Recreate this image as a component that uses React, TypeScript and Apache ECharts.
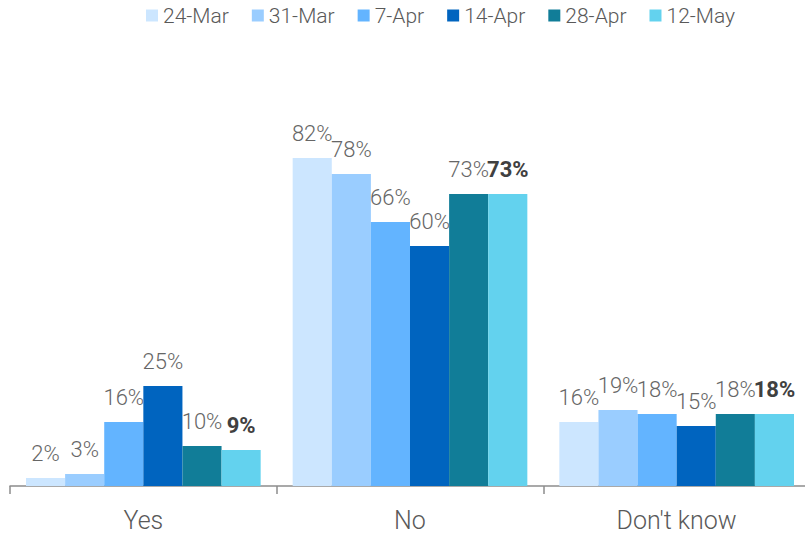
import React, { useEffect, useRef } from "react";
import * as echarts from "echarts";

const categories = ["Yes", "No", "Don't know"];
const seriesNames = ["24-Mar", "31-Mar", "7-Apr", "14-Apr", "28-Apr", "12-May"];
const mar24 = [2, 82, 16];
const mar31 = [3, 78, 19];
const apr7 = [16, 66, 18];
const apr14 = [25, 60, 15];
const apr28 = [10, 73, 18];
const may12 = [9, 73, 18];
const colors = ["#CCE6FF", "#9ACDFF", "#63B4FF", "#0064BF", "#117D98", "#63D2EE"];

const FONT = "Roboto, 'Liberation Sans', Arial, sans-serif";

export default function App() {
  const ref = useRef<HTMLDivElement>(null);
  useEffect(() => {
    if (!ref.current) return;
    const chart = echarts.init(ref.current, undefined, { renderer: "svg" });
    const data = [mar24, mar31, apr7, apr14, apr28, may12];
    chart.setOption({
      animation: false,
      textStyle: { fontFamily: FONT },
      legend: {
        left: 141,
        top: 0,
        itemWidth: 12,
        itemHeight: 12,
        itemGap: 23,
        icon: "rect",
        textStyle: { fontSize: 21, color: "#595959", fontFamily: FONT, fontWeight: 300 },
        data: seriesNames,
      },
      grid: { left: 10, width: 800, top: 86, bottom: 48, containLabel: false },
      xAxis: {
        type: "category",
        data: categories,
        axisLine: { lineStyle: { color: "#8c8c8c", width: 1.5 } },
        axisTick: { show: true, length: 8, lineStyle: { color: "#8c8c8c", width: 1.5 } },
        axisLabel: {
          fontSize: 25,
          lineHeight: 24,
          color: "#595959",
          margin: 22,
          fontFamily: FONT,
          fontWeight: 300,
        },
      },
      yAxis: {
        type: "value",
        min: 0,
        max: 100,
        show: false,
        splitLine: { show: false },
      },
      series: seriesNames.map((name, i) => ({
        name,
        type: "bar",
        data: data[i],
        barGap: "0%",
        barCategoryGap: "12%",
        itemStyle: { color: colors[i] },
        label: {
          show: true,
          position: "top",
          distance: 14,
          formatter: "{c}%",
          fontSize: 22,
          fontFamily: FONT,
          color: i === 5 ? "#404040" : "#666666",
          fontWeight: i === 5 ? "bold" : 300,
        },
      })),
    });
    return () => chart.dispose();
  }, []);
  return (
    <div style={{ position: "absolute", left: 0, top: 0, width: 805, height: 534, overflow: "hidden" }}>
      <div ref={ref} style={{ width: 815, height: 534 }} />
    </div>
  );
}
